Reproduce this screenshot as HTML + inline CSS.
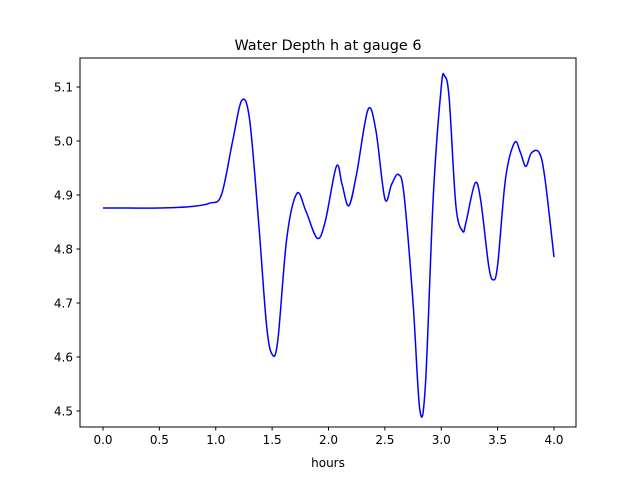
<!DOCTYPE html>
<html><head><meta charset="utf-8"><style>
body{margin:0;background:#fff}
svg{font-family:"DejaVu Sans","Liberation Sans",sans-serif}
</style></head><body>
<svg id="chart" width="640" height="480" xmlns="http://www.w3.org/2000/svg">
<rect width="640" height="480" fill="#fff"/>
<text x="328" y="50" text-anchor="middle" font-size="14.4">Water Depth h at gauge 6</text>
<g id="plot"></g>
<rect x="80" y="58" width="496" height="369" fill="none" stroke="#000" stroke-width="1"/>
<text x="328" y="467" text-anchor="middle" font-size="12">hours</text>
</svg>
<script>
const times=[0,0.5,0.8,0.95,1.05,1.15,1.23,1.3,1.38,1.45,1.5,1.55,1.63,1.72,1.8,1.9,1.97,2.07,2.12,2.18,2.25,2.35,2.42,2.5,2.56,2.62,2.67,2.75,2.81,2.86,2.93,3.0,3.03,3.07,3.13,3.19,3.22,3.3,3.35,3.42,3.46,3.5,3.57,3.65,3.7,3.75,3.8,3.87,3.92,4.0];
const depth=[4.876,4.876,4.879,4.885,4.90,5.00,5.075,5.04,4.85,4.66,4.605,4.63,4.82,4.903,4.87,4.82,4.85,4.953,4.92,4.88,4.94,5.058,5.02,4.893,4.92,4.938,4.90,4.70,4.502,4.55,4.90,5.10,5.12,5.08,4.88,4.833,4.85,4.922,4.89,4.77,4.743,4.77,4.93,4.997,4.98,4.953,4.978,4.978,4.93,4.785];
const xTicks=[0,0.5,1,1.5,2,2.5,3,3.5,4];
const xTickLabels=["0.0","0.5","1.0","1.5","2.0","2.5","3.0","3.5","4.0"];
const yTicks=[4.5,4.6,4.7,4.8,4.9,5.0,5.1];
const yTickLabels=["4.5","4.6","4.7","4.8","4.9","5.0","5.1"];
const X=t=>103+t*112.75;
const Y=v=>411-(v-4.5)*540;
const NS="http://www.w3.org/2000/svg";
const g=document.getElementById('plot');
function mk(tag,attrs){const e=document.createElementNS(NS,tag);for(const k in attrs)e.setAttribute(k,attrs[k]);g.appendChild(e);return e;}
xTicks.forEach((t,i)=>{
  const l=mk('line',{x1:X(t),x2:X(t),y1:427,y2:430.5,stroke:'#000'});
  
  
  const tx=mk('text',{x:X(t),y:444,'text-anchor':'middle','font-size':'12'});
  tx.textContent=xTickLabels[i];
  
  
});
yTicks.forEach((v,i)=>{
  const l=mk('line',{x1:76.5,x2:80,y1:Y(v),y2:Y(v),stroke:'#000'});
  
  
  const tx=mk('text',{x:73,y:Y(v)+4.5,'text-anchor':'end','font-size':'12'});
  tx.textContent=yTickLabels[i];
  
  
});
const pts=times.map((t,i)=>[X(t),Y(depth[i])]);
let d='M'+pts[0][0]+','+pts[0][1];
for(let i=0;i<pts.length-1;i++){
  const p0=pts[Math.max(0,i-1)],p1=pts[i],p2=pts[i+1],p3=pts[Math.min(pts.length-1,i+2)];
  const c1x=p1[0]+(p2[0]-p0[0])/6,c1y=p1[1]+(p2[1]-p0[1])/6;
  const c2x=p2[0]-(p3[0]-p1[0])/6,c2y=p2[1]-(p3[1]-p1[1])/6;
  d+=` C${c1x},${c1y} ${c2x},${c2y} ${p2[0]},${p2[1]}`;
}
const line=mk('path',{d:d,fill:'none',stroke:'#0000ff','stroke-width':'1.5'});


</script>
</body></html>
